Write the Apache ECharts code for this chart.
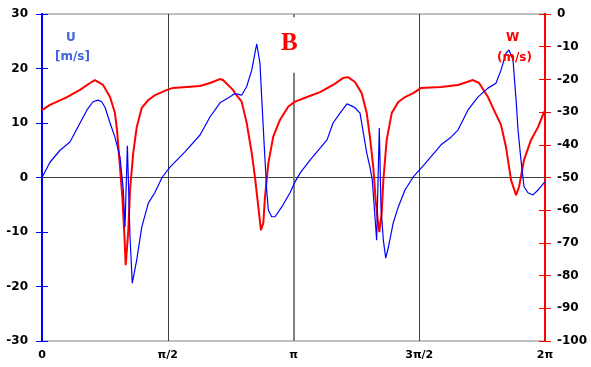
<!DOCTYPE html>
<html>
<head>
<meta charset="utf-8">
<script src="https://cdn.jsdelivr.net/npm/echarts@6/dist/echarts.min.js"></script>
<style>
html,body{margin:0;padding:0;background:#fff}
#chart{width:591px;height:367px}
</style>
</head>
<body>
<div id="chart"></div>
<script>
// Phase in degrees (0..360 maps to 0..2π)
const uPhase = [0,5.7,12.9,20.0,25.8,32.2,36.5,40.1,42.7,45.1,
  48.7,52.2,55.8,58.2,59.4,61.1,63.0,64.6,67.8,71.4,
  76.1,80.9,85.9,91.6,102.3,113.1,120.2,127.4,134.6,138.1,
  142.9,146.5,150.1,152.4,153.7,154.8,156.0,157.2,159.1,160.8,
  162.0,164.4,166.8,171.6,177.5,181.1,184.7,191.8,196.8,204.0,
  208.3,213.3,218.3,221.9,224.0,227.6,230.0,232.4,234.7,236.4,
  237.8,239.5,241.4,242.6,244.3,246.0,247.9,251.4,255.0,259.8,
  265.7,273.4,285.6,292.7,297.7,304.9,312.1,319.2,324.9,328.5,
  332.1,334.2,337.1,339.3,340.7,342.8,345.0,347.8,351.4,355.0,
  359.3,360];
// Horizontal velocity U [m/s]
const uValues = [0,2.8,5.0,6.5,9.3,12.4,13.9,14.2,13.9,12.9,
  10.0,7.4,3.8,-2.3,-9.1,5.8,-10.9,-19.4,-15.1,-9.1,
  -4.7,-2.7,0,1.9,4.7,7.8,11.1,13.7,14.8,15.4,
  15.1,16.7,19.7,22.8,24.5,24.5,21.0,14.8,5.6,-2.3,
  -6.0,-7.2,-7.2,-5.4,-2.8,-0.8,0.8,3.2,4.7,6.9,
  10.0,11.8,13.5,13.1,12.8,11.8,8.2,4.5,1.9,-0.5,
  -5.4,-11.5,9.1,-5.4,-11.5,-14.8,-12.8,-8.3,-5.4,-2.3,
  0.1,2.3,6.0,7.4,8.7,12.4,14.8,16.4,17.3,19.7,
  22.8,23.4,21.6,14.2,8.7,3.2,-1.7,-2.8,-3.2,-2.3,
  -1.0,-0.8];

const wPhase = [0,5.7,17.9,27.2,34.4,37.9,43.7,48.7,52.2,53.7,
  55.8,57.5,58.9,59.9,61.8,63.0,65.3,67.8,71.4,76.1,
  80.9,89.5,93.8,113.1,120.2,127.4,129.5,136.7,138.1,142.9,
  146.5,150.1,152.4,154.8,156.7,158.4,159.6,162.0,165.5,170.3,
  176.3,181.1,189.7,199.0,208.3,215.4,219.0,224.0,228.8,232.4,
  234.7,237.1,238.8,240.3,241.4,243.1,244.3,246.7,250.3,255.0,
  259.8,265.7,271.3,285.6,297.7,308.5,312.8,319.2,323.5,328.5,
  332.1,335.7,339.3,341.4,345.0,350.0,355.0,359.3,360];
// Vertical velocity W [m/s]
const wValues = [-29.4,-27.8,-25.4,-23.2,-21.1,-20.2,-21.7,-25.4,-30.3,-35.5,
  -46.8,-56.0,-67.0,-76.8,-66.1,-53.8,-42.5,-34.6,-28.7,-26.3,
  -24.8,-23.2,-22.6,-22.0,-21.1,-19.9,-20.2,-23.2,-24.2,-26.8,
  -33.3,-42.5,-49.8,-58.9,-66.1,-63.9,-55.9,-45.6,-37.5,-32.4,
  -28.3,-26.8,-25.4,-23.9,-21.7,-19.6,-19.3,-20.8,-24.2,-30.3,
  -37.6,-46.8,-56.9,-63.0,-66.7,-60.9,-50.8,-38.5,-30.3,-26.9,
  -25.4,-24.2,-22.6,-22.3,-21.7,-20.2,-21.1,-25.4,-29.4,-33.9,
  -40.7,-50.8,-55.4,-52.9,-44.6,-38.5,-34.6,-30.0,-29.7];

const phaseTickLabels = {0:'0', 90:'π/2', 180:'π', 270:'3π/2', 360:'2π'};

const zip = (xs, ys) => xs.map((x, i) => [x, ys[i]]);

const labelFont = {color:'#000', fontWeight:'bold', fontSize:12, fontFamily:'DejaVu Sans'};
const blue = '#0000ff', red = '#ff0000', unitBlue = '#3d66e0';
const dark = '#404040', grey = '#808080';

const note = (text, left, top, color, extra) => ({
  text, left, top, padding:0,
  textStyle:Object.assign({color, fontFamily:'DejaVu Sans', fontWeight:'bold', fontSize:12}, extra || {})
});

const chart = echarts.init(document.getElementById('chart'), null, {renderer:'canvas'});

chart.setOption({
  animation:false,
  backgroundColor:'#fff',
  title:[
    note('B', 281, 31, red, {fontFamily:'Liberation Serif', fontSize:25}),
    note('U', 66, 32, unitBlue),
    note('[m/s]', 55, 51, unitBlue),
    note('W', 506, 32, red),
    note('(m/s)', 497, 52, red)
  ],
  grid:{left:42, right:46, top:14, bottom:26, show:true, borderColor:grey, borderWidth:1, backgroundColor:'transparent'},
  xAxis:{
    type:'value', min:0, max:360, interval:90,
    axisLine:{show:true, lineStyle:{color:grey, width:1}},
    axisTick:{show:false},
    splitLine:{show:false},
    axisLabel:{...labelFont, fontSize:11, margin:9, formatter:v => phaseTickLabels[v] ?? ''}
  },
  yAxis:[
    {type:'value', position:'left', min:-30, max:30, interval:10,
     axisLine:{show:true, onZero:false, lineStyle:{color:blue, width:2}},
     axisTick:{show:true, length:6, lineStyle:{color:blue, width:1}},
     axisLabel:{...labelFont, margin:14},
     splitLine:{show:false}},
    {type:'value', position:'right', min:-100, max:0, interval:10,
     axisLine:{show:true, onZero:false, lineStyle:{color:red, width:2}},
     axisTick:{show:true, length:6, lineStyle:{color:red, width:1}},
     axisLabel:{...labelFont, margin:12},
     splitLine:{show:false}},
    // inner halves of the crossing tick marks
    {type:'value', position:'left', min:-30, max:30, interval:10,
     axisLine:{show:true, onZero:false, lineStyle:{color:blue, width:2}},
     axisTick:{show:true, inside:true, length:6, lineStyle:{color:blue, width:1}},
     axisLabel:{show:false}, splitLine:{show:false}},
    {type:'value', position:'right', min:-100, max:0, interval:10,
     axisLine:{show:true, onZero:false, lineStyle:{color:red, width:2}},
     axisTick:{show:true, inside:true, length:6, lineStyle:{color:red, width:1}},
     axisLabel:{show:false}, splitLine:{show:false}}
  ],
  series:[
    {
      name:'W', type:'line', yAxisIndex:1, data:zip(wPhase, wValues),
      showSymbol:false, lineStyle:{color:red, width:2}, itemStyle:{color:red}, z:3
    },
    {
      name:'U', type:'line', yAxisIndex:0, data:zip(uPhase, uValues),
      showSymbol:false, lineStyle:{color:blue, width:1.2}, itemStyle:{color:blue}, z:4,
      markLine:{
        silent:true, symbol:['none','none'], label:{show:false}, z:1,
        data:[
          {yAxis:0, lineStyle:{color:dark, width:1, type:'solid'}},
          {xAxis:90, lineStyle:{color:dark, width:1, type:'solid'}},
          {xAxis:270, lineStyle:{color:dark, width:1, type:'solid'}},
          [{coord:[180,-30], lineStyle:{color:grey, width:2, type:'solid'}}, {coord:[180,19.2]}],
          [{coord:[180,30], lineStyle:{color:grey, width:2, type:'solid'}}, {coord:[180,29.4]}]
        ]
      }
    }
  ]
});
</script>
</body>
</html>
